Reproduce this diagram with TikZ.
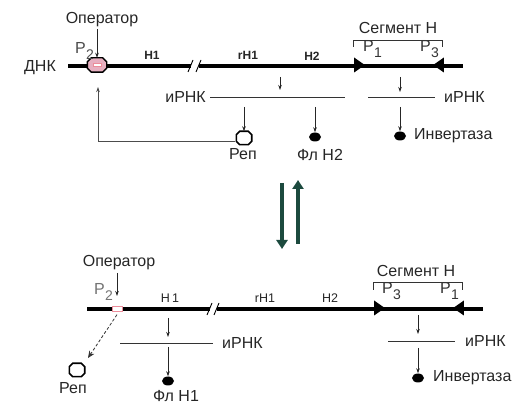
\documentclass[tikz,border=0pt]{standalone}
\usepackage{fontspec}
\setmainfont{Liberation Sans}
\usetikzlibrary{arrows.meta,shapes.geometric}
\definecolor{txt}{HTML}{262626}
\definecolor{opink}{HTML}{E7AFC0}
\definecolor{dgreen}{HTML}{1C4A3E}
\tikzset{
  lbl/.style={font=\fontsize{16}{18}\selectfont, text=txt, inner sep=0pt},
  slbl/.style={font=\fontsize{12.5}{14}\selectfont, text=txt, inner sep=0pt},
  bslbl/.style={font=\fontsize{12}{14}\selectfont\bfseries, text=txt, inner sep=0pt},
  dna/.style={line width=4pt, black},
  rna/.style={line width=0.9pt, black!80},
  sarr/.style={line width=0.8pt, black!85, -{Stealth[length=5pt,width=3.5pt]}},
  fb/.style={line width=0.8pt, black!70, -{Stealth[length=5pt,width=3.5pt]}},
  brk/.style={line width=0.9pt, black},
  octbox/.style={inner sep=0pt},
  prot/.style={ellipse, fill=black, minimum width=12pt, minimum height=9pt, inner sep=0pt},
  tri/.style={isosceles triangle, isosceles triangle apex angle=70, fill=black, inner sep=0pt, minimum height=10pt, minimum width=15pt},
  big/.style={line width=3.5pt, dgreen, -{Triangle[length=9pt,width=11pt]}},
}
\newcommand{\Psub}[1]{P\kern0.3pt\raisebox{-6pt}{\fontsize{14}{15}\selectfont #1}}
% octagon outline around a named node: #1 draw options, #2 node name, #3 chamfer
\newcommand{\octpath}[3]{%
  \draw[#1] ([xshift=#3]#2.north west) -- ([xshift=-#3]#2.north east) -- ([yshift=-#3]#2.north east)
    -- ([yshift=#3]#2.south east) -- ([xshift=-#3]#2.south east) -- ([xshift=#3]#2.south west)
    -- ([yshift=#3]#2.south west) -- ([yshift=-#3]#2.north west) -- cycle;}
\begin{document}
\begin{tikzpicture}[x=1pt,y=-1pt]
\useasboundingbox (0,0) rectangle (530,419);
% ================= TOP =================
\node[lbl] (dnk) at (40,68) {ДНК};
\coordinate (dL) at (68,66);
\coordinate (b1) at (191,66);
\coordinate (b2) at (199,66);
\coordinate (dR) at (463,66);
\draw[dna] (dL) -- (b1);
\draw[dna] (b2) -- (dR);
\draw[brk] (188,72) -- (193,60);
\draw[brk] (196,72) -- (201,60);
\node[octbox, minimum width=19pt, minimum height=14pt] (op1) at (97,65) {};
\octpath{draw=black, line width=1.4pt, fill=opink}{op1}{4pt}
\node[draw=opink!80!red, fill=white, line width=0.5pt, minimum width=8pt, minimum height=3pt, inner sep=0pt] (op1c) at (97,65) {};
\node[lbl] (oper1) at (102,20) {Оператор};
\coordinate (oa1) at (97,29);
\draw[sarr] (oa1) -- (op1.north);
\node[lbl, text=black!70, anchor=west] (p2a) at (75,51) {\Psub{2}};
\node[bslbl] (h1a) at (152,55) {H1};
\node[bslbl] (rh1a) at (248,55) {rH1};
\node[bslbl] (h2a) at (312,56) {H2};
\node[tri] (t1a) at (358,65) {};
\node[tri, shape border rotate=180] (t2a) at (440,65) {};
\draw[line width=1pt, black!80] (353,47) -- (353,41) -- (442,41) -- (442,47);
\node[lbl] (sega) at (398,28) {Сегмент H};
\node[lbl, text=black!80, anchor=west] (p1a) at (363,49) {\Psub{1}};
\node[lbl, text=black!80, anchor=west] (p3a) at (420,49) {\Psub{3}};
% mRNA
\coordinate (r1L) at (210,97);
\coordinate (r1R) at (345,97);
\coordinate (r2L) at (368,97);
\coordinate (r2R) at (435,97);
\draw[rna] (r1L) -- (r1R);
\draw[rna] (r2L) -- (r2R);
\node[lbl, anchor=east] (irnk1) at (r1L) [xshift=-4pt] {иРНК};
\node[lbl, anchor=west] (irnk2) at (r2R) [xshift=9pt] {иРНК};
\coordinate (s1) at (280,77); \coordinate (e1) at (280,90);
\coordinate (s2) at (400,77); \coordinate (e2) at (400,92);
\draw[sarr] (s1) -- (e1);
\draw[sarr] (s2) -- (e2);
% products
\node[octbox, minimum width=15pt, minimum height=13pt] (rep1) at (244,138) {};
\octpath{draw=black, line width=1.6pt, fill=white}{rep1}{3.5pt}
\node[lbl] (rep1l) at (243,154) {Реп};
\coordinate (s3) at (244,107);
\draw[sarr] (s3) -- (rep1.north);
\node[prot] (fl2) at (315,137) {};
\coordinate (s4) at (315,107);
\draw[sarr] (s4) -- (fl2.north);
\node[lbl] (fl2l) at (320,155) {Фл H2};
\node[prot] (inv1) at (400,136) {};
\coordinate (s5) at (400,107);
\draw[sarr] (s5) -- (inv1.north);
\node[lbl, anchor=west] (inv1l) at (414,136) {Инвертаза};
\coordinate (fbc) at (98,141);
\coordinate (fbe) at (98,87);
\draw[fb] ([xshift=-1pt]rep1.west |- fbc) -- (fbc) -- (fbe);
% ================= MIDDLE =================
\coordinate (m1s) at (282,183); \coordinate (m1e) at (282,249);
\coordinate (m2s) at (298,244); \coordinate (m2e) at (298,180);
\draw[big] (m1s) -- (m1e);
\draw[big] (m2s) -- (m2e);
% ================= BOTTOM =================
\coordinate (eL) at (87,309);
\coordinate (c1) at (210,309);
\coordinate (c2) at (217,309);
\coordinate (eR) at (483,309);
\draw[dna] (eL) -- (c1);
\draw[dna] (c2) -- (eR);
\draw[brk] (207,315) -- (212,303);
\draw[brk] (214,315) -- (219,303);
\node[draw=opink!80!red, fill=white, line width=0.8pt, minimum width=10pt, minimum height=4.5pt, inner sep=0pt] (op2) at (117,309) {};
\node[lbl] (oper2) at (119,263) {Оператор};
\coordinate (oa2) at (117,273);
\draw[sarr] (oa2) -- (117,296);
\node[lbl, text=black!55, anchor=west] (p2b) at (94,292) {\Psub{2}};
\node[slbl] (h1b) at (170,298) {H\,1};
\node[slbl] (rh1b) at (265,298) {rH1};
\node[slbl] (h2b) at (330,298) {H2};
\node[tri] (t1b) at (378,308) {};
\node[tri, shape border rotate=180] (t2b) at (460,308) {};
\draw[line width=1pt, black!80] (373,290) -- (373,283) -- (462,283) -- (462,290);
\node[lbl] (segb) at (416,271) {Сегмент H};
\node[lbl, text=black!80, anchor=west] (p3b) at (382,291) {\Psub{3}};
\node[lbl, text=black!80, anchor=west] (p1b) at (440,291) {\Psub{1}};
% right gene
\coordinate (r3L) at (388,341);
\coordinate (r3R) at (455,341);
\draw[rna] (r3L) -- (r3R);
\node[lbl, anchor=west] (irnk3) at (r3R) [xshift=10pt] {иРНК};
\coordinate (s6) at (418,315); \coordinate (e6) at (418,334);
\draw[sarr] (s6) -- (e6);
\node[prot] (inv2) at (418,378) {};
\coordinate (s7) at (418,348);
\draw[sarr] (s7) -- (inv2.north);
\node[lbl, anchor=west] (inv2l) at (433,378) {Инвертаза};
% left gene
\coordinate (r4L) at (120,343);
\coordinate (r4R) at (213,343);
\draw[rna] (r4L) -- (r4R);
\node[lbl, anchor=west] (irnk4) at (r4R) [xshift=9pt] {иРНК};
\coordinate (s8) at (168,318); \coordinate (e8) at (168,337);
\draw[sarr] (s8) -- (e8);
\node[prot] (fl1) at (168,381) {};
\coordinate (s9) at (168,347);
\draw[sarr] (s9) -- (fl1.north);
\node[lbl] (fl1l) at (176,396) {Фл H1};
% rep
\node[octbox, minimum width=15pt, minimum height=13pt] (rep2) at (77,370) {};
\octpath{draw=black, line width=1.6pt, fill=white}{rep2}{3.5pt}
\node[lbl] (rep2l) at (73,388) {Реп};
\draw[line width=0.8pt, black!80, densely dashed, -{Stealth[length=7pt,width=6pt]}] ([yshift=-3pt]op2.south) -- (88,358);
\end{tikzpicture}
\end{document}
